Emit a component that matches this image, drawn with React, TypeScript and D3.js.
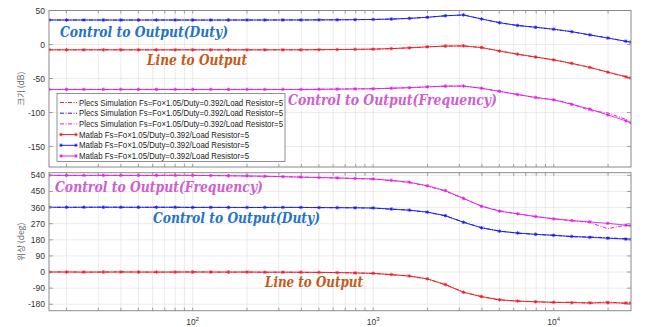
import React from 'react';
import * as d3 from 'd3';

// frequency points (Hz)
const freqHz = [16, 20, 25, 32, 40, 50, 63, 80, 100, 126, 158, 200, 251, 316, 398, 501, 631, 794, 1000, 1259, 1585, 1995, 2512, 3162, 3981, 5012, 6310, 7943, 10000, 12589, 15849, 19953, 25119, 26800];

// magnitude (dB)
const magDuty = [36, 36, 36, 36, 36, 36, 36, 36, 36, 36, 36, 36, 36, 36.1, 36.1, 36.2, 36.3, 36.5, 36.8, 37.4, 38.4, 40, 42.3, 43.5, 37.5, 32, 28, 25.3, 22.5, 18.8, 14.2, 9.5, 4.8, 3.5];
const magDutySim = [36.2, 36, 36.1, 36, 35.9, 36, 36.1, 36, 36, 35.9, 36, 36.1, 36, 36.1, 36, 36.2, 36.3, 36.6, 36.8, 37.3, 38.5, 40.1, 42.2, 43.4, 37.6, 32.1, 27.9, 25.4, 22.3, 18.9, 14, 9.8, 4.5, 3.2];
const magLine = [-7.8, -7.8, -7.8, -7.8, -7.8, -7.8, -7.8, -7.8, -7.8, -7.8, -7.8, -7.8, -7.8, -7.8, -7.8, -7.6, -7.4, -7.1, -6.8, -6, -4.9, -3.4, -2.3, -2, -4.4, -9.6, -14.2, -18.4, -22.6, -27.7, -33.7, -40.6, -47.5, -49.4];
const magLineSim = [-7.7, -7.9, -7.8, -7.7, -7.8, -7.9, -7.8, -7.8, -7.7, -7.8, -7.8, -7.9, -7.8, -7.8, -7.7, -7.6, -7.4, -7.2, -6.8, -6.1, -4.8, -3.5, -2.3, -2.1, -4.5, -9.5, -14.3, -18.5, -22.4, -27.9, -33.4, -40.9, -47.2, -49.8];
const magFreq = [-66, -66, -66, -66, -66, -66, -66, -66, -66, -66, -66, -66, -66, -66, -66, -65.8, -65.5, -65.2, -65, -64.3, -63.4, -62.2, -61.2, -61, -64.3, -68.8, -73.5, -77.8, -81.3, -88, -94.8, -103.5, -112.2, -114.6];
const magFreqSim = [-66.2, -66, -65.9, -66.1, -66, -66, -65.9, -66, -66.1, -66, -66, -65.9, -66, -66, -66.1, -65.8, -65.5, -65.3, -65, -64.2, -63.5, -62.3, -61.1, -61.1, -64.4, -68.9, -73.3, -78.1, -81, -87.2, -97, -100.5, -110, -116.5];

// phase (deg)
const phFreq = [540, 540, 540, 540, 540, 540, 540, 540, 540, 539, 538, 537, 535, 533, 530, 528, 526, 523, 520, 512, 502, 482, 455, 412, 367, 340, 325, 310, 297, 288, 280, 272, 262, 260];
const phFreqSim = [541, 540, 539, 541, 540, 539, 540, 541, 540, 539, 538, 536, 535, 533, 531, 528, 525, 522, 519, 511, 500, 480, 452, 410, 369, 342, 326, 309, 298, 286, 277, 242, 262, 255];
const phDuty = [362, 362, 362, 362, 362, 362, 362, 362, 361, 361, 361, 361, 361, 361, 361, 360, 360, 359, 358, 352, 346, 335, 315, 278, 247, 228, 218, 211, 205, 199, 194, 189, 184, 183];
const phDutySim = [362, 361, 362, 363, 362, 361, 362, 362, 361, 362, 361, 360, 361, 362, 361, 360, 359, 359, 357, 351, 345, 334, 314, 279, 248, 229, 217, 210, 206, 197, 196, 191, 186, 185];
const phLine = [0, 0, 0, 0, 0, 0, 0, 0, 0, 0, 0, 0, -1, -1, -1, -2, -3, -5, -7, -14, -22, -38, -70, -113, -137, -155, -162, -166, -169, -171, -172, -172, -173, -173];
const phLineSim = [0, 1, -1, 0, 1, 0, -1, 0, 1, 0, -1, 0, -1, 0, -2, -2, -3, -5, -8, -15, -23, -39, -71, -112, -138, -156, -163, -167, -170, -168, -175, -166, -176, -172];

const magTicks = [-150, -100, -50, 0, 50];
const phTicks = [-180, -90, 0, 90, 180, 270, 360, 450, 540];
const freqTicks = [100, 1000, 10000];

const legendLabels = [
  'Plecs Simulation Fs=Fo×1.05/Duty=0.392/Load Resistor=5',
  'Plecs Simulation Fs=Fo×1.05/Duty=0.392/Load Resistor=5',
  'Plecs Simulation Fs=Fo×1.05/Duty=0.392/Load Resistor=5',
  'Matlab Fs=Fo×1.05/Duty=0.392/Load Resistor=5',
  'Matlab Fs=Fo×1.05/Duty=0.392/Load Resistor=5',
  'Matlab Fs=Fo×1.05/Duty=0.392/Load Resistor=5',
];

const RED = '#f01c28';
const BLUE = '#1c1cf0';
const MAG = '#e020e0';
const GRID = '#e3e3e3';
const BORDER = '#8a8a8a';
const TXT = '#333';

const W = 646;
const H = 327;
const L = 49;
const R = 631;

const x = d3.scaleLog().domain([16, 26800]).range([L, R]);
const yMag = d3.scaleLinear().domain([-180, 50]).range([167, 10.5]);
const yPh = d3.scaleLinear().domain([-216, 555]).range([310.7, 172.7]);

// minor grid positions
const minorX: number[] = [];
for (let dec = 10; dec <= 10000; dec *= 10) {
  for (let m = 1; m < 10; m++) {
    const f = dec * m;
    if (f > 16 && f < 26800) minorX.push(f);
  }
}

const Star = ({ cx, cy, color }: { cx: number; cy: number; color: string }) => {
  const r = 1.8;
  return (
    <path
      d={`M${cx - r},${cy}L${cx + r},${cy}M${cx},${cy - r}L${cx},${cy + r}M${cx - 1.3},${cy - 1.3}L${cx + 1.3},${cy + 1.3}M${cx - 1.3},${cy + 1.3}L${cx + 1.3},${cy - 1.3}`}
      stroke={color}
      strokeWidth={0.8}
    />
  );
};

const Panel = ({
  y,
  ticks,
  label,
  series,
  showXLabels,
}: {
  y: d3.ScaleLinear<number, number>;
  ticks: number[];
  label: string;
  series: { vals: number[]; color: string; sim: boolean }[];
  showXLabels: boolean;
}) => {
  const [y0, y1] = y.range();
  const line = d3
    .line<number>()
    .x((_, i) => x(freqHz[i]))
    .y((v) => y(v));
  const clipId = `clip${Math.round(y1)}`;
  return (
    <g>
      <defs>
        <clipPath id={clipId}>
          <rect x={L} y={y1} width={R - L} height={y0 - y1} />
        </clipPath>
      </defs>
      <rect x={L} y={y1} width={R - L} height={y0 - y1} fill="#fff" />
      {minorX.map((f) => (
        <line key={f} x1={x(f)} x2={x(f)} y1={y1} y2={y0} stroke={GRID} strokeWidth={0.7} />
      ))}
      {ticks.map((t) => (
        <line key={t} x1={L} x2={R} y1={y(t)} y2={y(t)} stroke={GRID} strokeWidth={0.7} />
      ))}
      <g clipPath={`url(#${clipId})`}>
        {series.map((s, k) =>
          s.sim ? (
            <path key={k} d={line(s.vals) || ''} fill="none" stroke={s.color} strokeWidth={1} strokeDasharray="4,1.5,1,1.5" />
          ) : (
            <g key={k}>
              <path d={line(s.vals) || ''} fill="none" stroke={s.color} strokeWidth={0.9} />
              {s.vals.map((v, i) => (
                <Star key={i} cx={x(freqHz[i])} cy={y(v)} color={s.color} />
              ))}
            </g>
          )
        )}
      </g>
      {/* ticks inward on all sides */}
      {minorX.map((f) => (
        <g key={f}>
          <line x1={x(f)} x2={x(f)} y1={y0} y2={y0 - 3} stroke={BORDER} strokeWidth={0.8} />
          <line x1={x(f)} x2={x(f)} y1={y1} y2={y1 + 3} stroke={BORDER} strokeWidth={0.8} />
        </g>
      ))}
      {ticks.map((t) => (
        <g key={t}>
          <line x1={L} x2={L + 4} y1={y(t)} y2={y(t)} stroke={BORDER} strokeWidth={0.8} />
          <line x1={R} x2={R - 4} y1={y(t)} y2={y(t)} stroke={BORDER} strokeWidth={0.8} />
          <text x={L - 4} y={y(t) + 3} textAnchor="end" fontSize={8.5} fill={TXT} fontFamily="Liberation Sans, Arial">
            {t}
          </text>
        </g>
      ))}
      <rect x={L} y={y1} width={R - L} height={y0 - y1} fill="none" stroke={BORDER} strokeWidth={1} />
      {showXLabels &&
        freqTicks.map((f) => (
          <text key={f} x={x(f)} y={y0 + 14} textAnchor="middle" fontSize={8.5} fill={TXT} fontFamily="Liberation Sans, Arial">
            10
            <tspan fontSize={6} dy={-4}>
              {Math.round(Math.log10(f))}
            </tspan>
          </text>
        ))}
      <text
        transform={`translate(24,${(y0 + y1) / 2}) rotate(-90)`}
        textAnchor="middle"
        fontSize={8.5}
        fill="#666"
        fontFamily="Noto Sans CJK KR, Liberation Sans, Arial"
      >
        {label}
      </text>
    </g>
  );
};

const Note = ({ x0, y0, w, color, children }: { x0: number; y0: number; w: number; color: string; children: string }) => (
  <text
    x={x0}
    y={y0}
    fontSize={15}
    fontWeight="bold"
    fontStyle="italic"
    fill={color}
    fontFamily="DejaVu Serif, Liberation Serif, serif"
    textLength={w}
    lengthAdjust="spacingAndGlyphs"
  >
    {children}
  </text>
);

const App = () => {
  const legendColors = [RED, BLUE, MAG, RED, BLUE, MAG];
  return (
    <svg width={W} height={H} style={{ position: 'absolute', left: 0, top: 0, background: '#fff' }}>
      <Panel
        y={yMag}
        ticks={magTicks}
        label="크기 (dB)"
        showXLabels={false}
        series={[
          { vals: magDutySim, color: BLUE, sim: true },
          { vals: magLineSim, color: RED, sim: true },
          { vals: magFreqSim, color: MAG, sim: true },
          { vals: magDuty, color: BLUE, sim: false },
          { vals: magLine, color: RED, sim: false },
          { vals: magFreq, color: MAG, sim: false },
        ]}
      />
      <Panel
        y={yPh}
        ticks={phTicks}
        label="위상 (deg)"
        showXLabels={true}
        series={[
          { vals: phFreqSim, color: MAG, sim: true },
          { vals: phDutySim, color: BLUE, sim: true },
          { vals: phLineSim, color: RED, sim: true },
          { vals: phFreq, color: MAG, sim: false },
          { vals: phDuty, color: BLUE, sim: false },
          { vals: phLine, color: RED, sim: false },
        ]}
      />

      {/* legend */}
      <g>
        <rect x={57} y={93.5} width={228} height={68} fill="#fff" stroke="#777" strokeWidth={0.8} />
        {legendLabels.map((lab, i) => {
          const cy = 102.5 + i * 10.7;
          const c = legendColors[i];
          return (
            <g key={i}>
              {i < 3 ? (
                <line x1={60} x2={77} y1={cy} y2={cy} stroke={c} strokeWidth={1} strokeDasharray="4,1.5,1,1.5" />
              ) : (
                <g>
                  <line x1={60} x2={77} y1={cy} y2={cy} stroke={c} strokeWidth={1} />
                  <Star cx={61} cy={cy} color={c} />
                  <Star cx={76} cy={cy} color={c} />
                </g>
              )}
              <text x={79} y={cy + 3} fontSize={8.6} fill="#222" fontFamily="Liberation Sans, Arial" textLength={i < 3 ? 204 : 170} lengthAdjust="spacingAndGlyphs">
                {lab}
              </text>
            </g>
          );
        })}
      </g>

      {/* annotations */}
      <Note x0={60} y0={37} w={168} color="#2673c4">Control to Output(Duty)</Note>
      <Note x0={147} y0={65} w={100} color="#c45a1a">Line to Output</Note>
      <Note x0={288} y0={105} w={209} color="#cf5fcf">Control to Output(Frequency)</Note>
      <Note x0={55} y0={191.5} w={208} color="#cf5fcf">Control to Output(Frequency)</Note>
      <Note x0={153} y0={223} w={167} color="#2673c4">Control to Output(Duty)</Note>
      <Note x0={265} y0={287} w={98} color="#c45a1a">Line to Output</Note>
    </svg>
  );
};

export default App;
